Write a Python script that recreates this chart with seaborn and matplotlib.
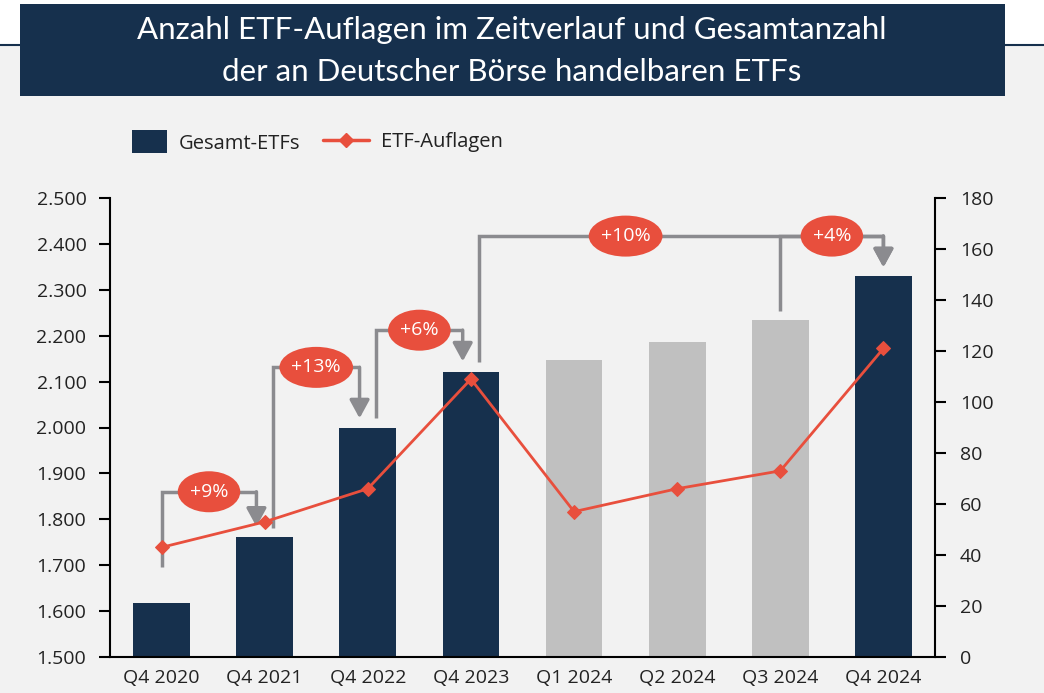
import matplotlib
matplotlib.use("Agg")
import matplotlib.pyplot as plt
import seaborn as sns
import numpy as np
from matplotlib.patches import Rectangle, Patch, Ellipse
from matplotlib.lines import Line2D
from matplotlib.ticker import FuncFormatter

# Data
quarters = ["Q4 2020", "Q4 2021", "Q4 2022", "Q4 2023", "Q1 2024", "Q2 2024", "Q3 2024", "Q4 2024"]
gesamt_etfs = [1618, 1762, 2000, 2122, 2148, 2186, 2234, 2330]
etf_auflagen = [43, 53, 66, 109, 57, 66, 73, 121]
growth_labels = ["+9%", "+13%", "+6%", "+10%", "+4%"]

NAVY = "#16304d"
LIGHT = "#c0c0c0"
RED = "#e84f3d"
GRAY = "#8b8b8f"
BG = "#f2f2f2"
TXT = "#222222"

sns.set_theme(style="white")
plt.rcParams["font.family"] = ["Open Sans", "DejaVu Sans"]

W, H = 1044, 693
fig = plt.figure(figsize=(W / 100, H / 100), dpi=100, facecolor=BG)
# white strip on top + header box
fig.patches.append(Rectangle((0, 1 - 45 / H), 1, 45 / H, transform=fig.transFigure,
                             facecolor="white", edgecolor="none", zorder=0))
fig.lines.append(Line2D([0, 1], [1 - 45 / H] * 2, transform=fig.transFigure, color=NAVY, lw=1.5))
fig.patches.append(Rectangle((20 / W, 1 - 96 / H), 985 / W, 92 / H, transform=fig.transFigure,
                             facecolor=NAVY, edgecolor="none", zorder=2))
for ypix, line in [(30, "Anzahl ETF-Auflagen im Zeitverlauf und Gesamtanzahl"),
                   (72, "der an Deutscher Börse handelbaren ETFs")]:
    fig.text(512 / W, 1 - ypix / H, line, ha="center", va="center", color="white",
             fontsize=22.5, family=["Lato", "DejaVu Sans"], zorder=3)

ax = fig.add_axes([110 / W, 1 - 657 / H, 825 / W, 459 / H])
ax.set_facecolor(BG)

bar_colors = [NAVY, NAVY, NAVY, NAVY, LIGHT, LIGHT, LIGHT, NAVY]
sns.barplot(x=quarters, y=gesamt_etfs, hue=quarters, palette=bar_colors, legend=False,
            width=0.55, saturation=1, linewidth=0, ax=ax)
ax.set_ylim(1500, 2500)
ax.set_xlim(-0.5, 7.5)
ax.set_yticks(np.arange(1500, 2501, 100))
ax.yaxis.set_major_formatter(FuncFormatter(lambda v, p: f"{int(v):,}".replace(",", ".")))

ax2 = ax.twinx()
sns.lineplot(x=np.arange(len(quarters)), y=etf_auflagen, color=RED, lw=2, marker="D",
             markersize=7, markeredgecolor=RED, ax=ax2)
ax2.set_ylim(0, 180)
ax2.set_yticks(np.arange(0, 181, 20))

for a in (ax, ax2):
    a.set_xlabel("")
    a.set_ylabel("")
    for s in a.spines.values():
        s.set_visible(False)
ax.spines["left"].set_visible(True)
ax.spines["bottom"].set_visible(True)
ax2.spines["right"].set_visible(True)
for s in (ax.spines["left"], ax.spines["bottom"], ax2.spines["right"]):
    s.set_color("black")
    s.set_linewidth(1.5)

ax.tick_params(axis="y", direction="out", length=8, width=1.5, color="black",
               labelsize=14, labelcolor=TXT, pad=9, left=True)
ax.tick_params(axis="x", length=0, labelsize=14, labelcolor=TXT, pad=9)
ax2.tick_params(axis="y", direction="out", length=8, width=1.5, color="black",
                labelsize=14, labelcolor=TXT, pad=10, right=True)

# growth brackets: (x start, y start, level, x end, arrow tip, label x)
brackets = [
    (0.0, 1697, 1860, 0.92, 1784, 0.46),
    (1.08, 1782, 2131, 1.92, 2020, 1.5),
    (2.08, 2020, 2212, 2.92, 2144, 2.5),
    (3.08, 2142, 2417, 7.0, 2349, 4.5),
    (6.0, 2253, 2417, 7.0, 2349, 6.5),
]
renderer = fig.canvas.get_renderer()
xpix = ax.transData.transform((1, 0))[0] - ax.transData.transform((0, 0))[0]
ypix = ax.transData.transform((0, 1600))[1] - ax.transData.transform((0, 1500))[1]
for (x0, y0, lev, x1, tip, lx), lab in zip(brackets, growth_labels):
    ax.plot([x0, x0, x1], [y0, lev, lev], color=GRAY, lw=2.5, solid_joinstyle="miter",
            solid_capstyle="butt", zorder=3)
    ax.annotate("", xy=(x1, tip), xytext=(x1, lev),
                arrowprops=dict(arrowstyle="-|>,head_length=0.55,head_width=0.3", color=GRAY,
                                lw=2.5, shrinkA=0, shrinkB=0, mutation_scale=20), zorder=3)
    t = ax.text(lx, lev, lab, ha="center", va="center", color="white", fontsize=14, zorder=5)
    tw = t.get_window_extent(renderer).width
    ax.add_patch(Ellipse((lx, lev), (tw + 24) / xpix, 41 / ypix * 100,
                         facecolor=RED, edgecolor="none", zorder=4))

leg1 = fig.legend([Patch(facecolor=NAVY, edgecolor="none")], ["Gesamt-ETFs"],
                  loc="center left", bbox_to_anchor=(132 / W, 1 - 142 / H), frameon=False,
                  fontsize=14.5, handlelength=1.75, handleheight=1.35, handletextpad=0.55,
                  borderpad=0, borderaxespad=0, labelcolor=TXT)
fig.legend([Line2D([], [], color=RED, lw=2.5, marker="D", markersize=7)], ["ETF-Auflagen"],
           loc="center left", bbox_to_anchor=(323 / W, 1 - 142 / H), frameon=False,
           fontsize=14.5, handlelength=2.3, handletextpad=0.6,
           borderpad=0, borderaxespad=0, labelcolor=TXT)

fig.savefig("out.png", dpi=100, facecolor=BG)
